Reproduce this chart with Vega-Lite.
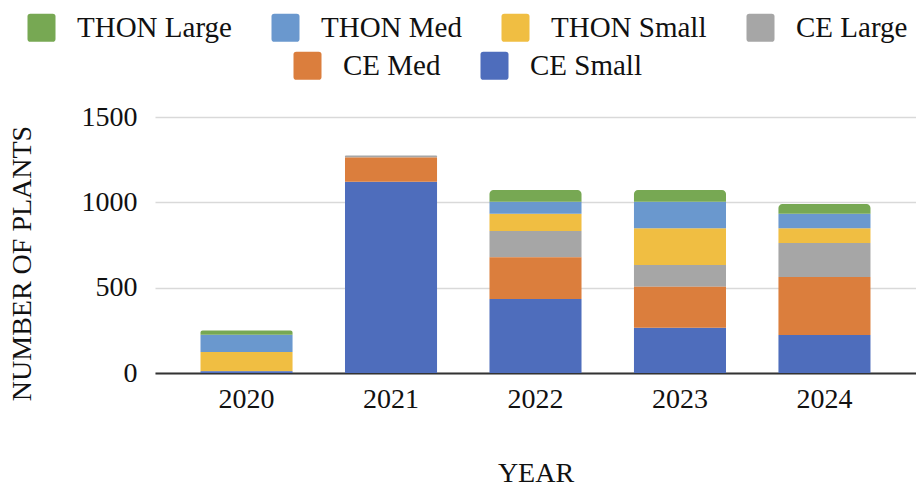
{
  "$schema": "https://vega.github.io/schema/vega-lite/v6.json",
  "width": 761,
  "height": 256,
  "autosize": {"type": "none"},
  "padding": {"left": 155, "top": 117, "right": 0, "bottom": 116},
  "background": "white",
  "config": {
    "font": "'Liberation Serif', 'Times New Roman', Times, 'DejaVu Serif', serif",
    "view": {"stroke": null},
    "axis": {
      "labelFont": "'Liberation Serif', 'Times New Roman', Times, 'DejaVu Serif', serif",
      "titleFont": "'Liberation Serif', 'Times New Roman', Times, 'DejaVu Serif', serif",
      "labelFontSize": 28,
      "titleFontSize": 28,
      "labelColor": "#111111",
      "titleColor": "#111111",
      "titleFontWeight": "normal"
    },
    "legend": {
      "labelFont": "'Liberation Serif', 'Times New Roman', Times, 'DejaVu Serif', serif",
      "labelFontSize": 29,
      "labelColor": "#111111",
      "labelOffset": 21,
      "columnPadding": 39,
      "padding": 0,
      "symbolSize": 784,
      "symbolStrokeWidth": 0,
      "symbolOpacity": 1,
      "symbolType": "M-0.8,-1L0.8,-1Q1,-1,1,-0.8L1,0.8Q1,1,0.8,1L-0.8,1Q-1,1,-1,0.8L-1,-0.8Q-1,-1,-0.8,-1Z"
    }
  },
  "data": {
    "values": [
      {"year": "2020", "series": "CE Small", "value": 10},
      {"year": "2020", "series": "CE Med", "value": 0},
      {"year": "2020", "series": "CE Large", "value": 0},
      {"year": "2020", "series": "THON Small", "value": 113},
      {"year": "2020", "series": "THON Med", "value": 101},
      {"year": "2020", "series": "THON Large", "value": 25},
      {"year": "2021", "series": "CE Small", "value": 1120},
      {"year": "2021", "series": "CE Med", "value": 143},
      {"year": "2021", "series": "CE Large", "value": 12},
      {"year": "2021", "series": "THON Small", "value": 0},
      {"year": "2021", "series": "THON Med", "value": 0},
      {"year": "2021", "series": "THON Large", "value": 0},
      {"year": "2022", "series": "CE Small", "value": 434},
      {"year": "2022", "series": "CE Med", "value": 244},
      {"year": "2022", "series": "CE Large", "value": 154},
      {"year": "2022", "series": "THON Small", "value": 101},
      {"year": "2022", "series": "THON Med", "value": 70},
      {"year": "2022", "series": "THON Large", "value": 69},
      {"year": "2023", "series": "CE Small", "value": 265},
      {"year": "2023", "series": "CE Med", "value": 241},
      {"year": "2023", "series": "CE Large", "value": 127},
      {"year": "2023", "series": "THON Small", "value": 215},
      {"year": "2023", "series": "THON Med", "value": 155},
      {"year": "2023", "series": "THON Large", "value": 69},
      {"year": "2024", "series": "CE Small", "value": 222},
      {"year": "2024", "series": "CE Med", "value": 341},
      {"year": "2024", "series": "CE Large", "value": 199},
      {"year": "2024", "series": "THON Small", "value": 86},
      {"year": "2024", "series": "THON Med", "value": 85},
      {"year": "2024", "series": "THON Large", "value": 57}
    ]
  },
  "transform": [
    {"stack": "value", "groupby": ["year"], "as": ["y0", "y1"]},
    {"joinaggregate": [{"op": "sum", "field": "value", "as": "total"}], "groupby": ["year"]}
  ],
  "encoding": {
    "x": {
      "field": "year",
      "type": "ordinal",
      "scale": {"paddingInner": 0.363, "paddingOuter": 0.315},
      "axis": {
        "title": "YEAR",
        "labelAngle": 0,
        "ticks": false,
        "domainColor": "#333333",
        "domainWidth": 2,
        "labelPadding": 12,
        "titlePadding": 46
      }
    },
    "y": {
      "field": "y0",
      "type": "quantitative",
      "scale": {"domain": [0, 1500], "nice": false},
      "axis": {
        "title": "NUMBER OF PLANTS",
        "values": [0, 500, 1000, 1500],
        "format": "d",
        "ticks": false,
        "domain": false,
        "gridColor": "#d9d9d9",
        "gridWidth": 1.5,
        "labelPadding": 18,
        "titleX": -133,
        "titleY": 146,
        "titleAlign": "center",
        "titleBaseline": "middle",
        "titleAngle": -90
      }
    },
    "y2": {"field": "y1"}
  },
  "layer": [
    {
      "transform": [{"filter": "datum.series != 'CE Med' && datum.series != 'CE Small'"}],
      "mark": {
        "type": "bar",
        "cornerRadiusTopLeft": {"expr": "datum.value > 0 && datum.y1 >= datum.total - 0.01 ? 4 : 0"},
        "cornerRadiusTopRight": {"expr": "datum.value > 0 && datum.y1 >= datum.total - 0.01 ? 4 : 0"}
      },
      "encoding": {
        "color": {
          "field": "series",
          "type": "nominal",
          "scale": {
            "domain": ["THON Large", "THON Med", "THON Small", "CE Large"],
            "range": ["#77A853", "#6A98CE", "#F0BE42", "#A6A6A6"]
          },
          "legend": {"orient": "none", "legendX": -128, "legendY": -104, "direction": "horizontal", "title": null}
        }
      }
    },
    {
      "transform": [{"filter": "datum.series == 'CE Med' || datum.series == 'CE Small'"}],
      "mark": {"type": "bar"},
      "encoding": {
        "color": {
          "field": "series",
          "type": "nominal",
          "scale": {
            "domain": ["CE Med", "CE Small"],
            "range": ["#DB7E3D", "#4E6DBC"]
          },
          "legend": {"orient": "none", "legendX": 138, "legendY": -66, "direction": "horizontal", "title": null}
        }
      }
    }
  ],
  "resolve": {"scale": {"color": "independent"}, "legend": {"color": "independent"}}
}
